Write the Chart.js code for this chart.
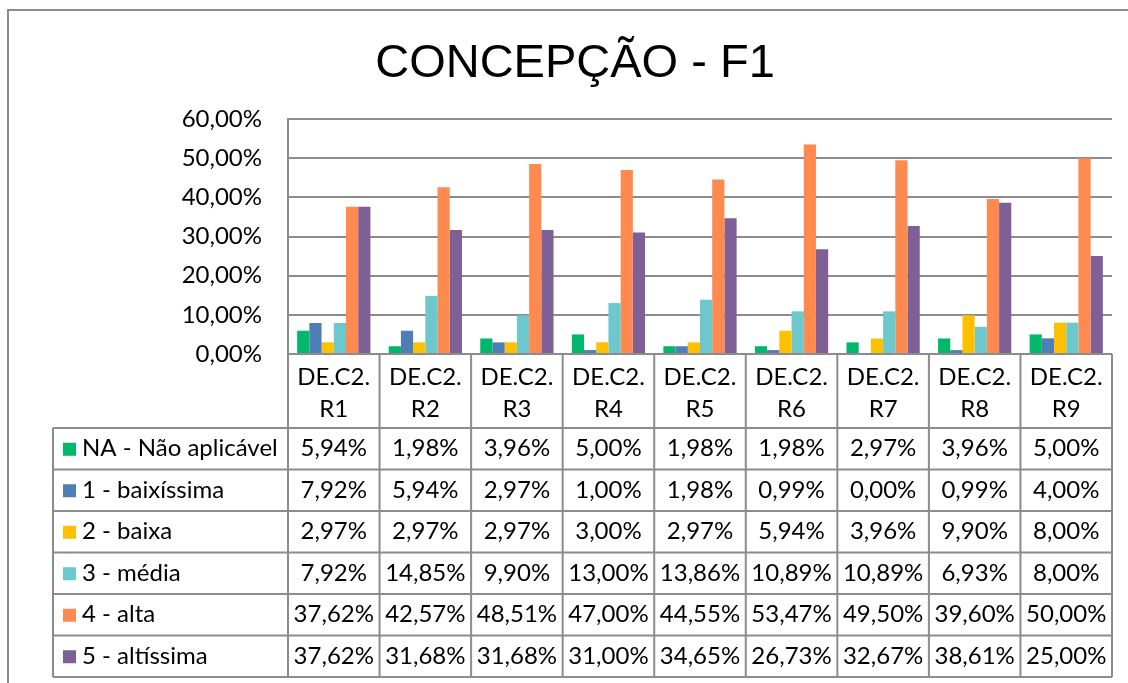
<!DOCTYPE html>
<html>
<head>
<meta charset="utf-8">
<script src="https://cdn.jsdelivr.net/npm/chart.js@4/dist/chart.umd.min.js"></script>
<style>
  html, body { margin: 0; padding: 0; background: #fff; }
  #wrap { width: 1128px; height: 683px; }
</style>
</head>
<body>
<div id="wrap"><canvas id="chart" width="1128" height="683"></canvas></div>
<script>
// categories (two header lines each)
const catTop = ['DE.C2.', 'DE.C2.', 'DE.C2.', 'DE.C2.', 'DE.C2.', 'DE.C2.', 'DE.C2.', 'DE.C2.', 'DE.C2.'];
const catBottom = ['R1', 'R2', 'R3', 'R4', 'R5', 'R6', 'R7', 'R8', 'R9'];

const seriesNames = ['NA - Não aplicável', '1 - baixíssima', '2 - baixa', '3 - média', '4 - alta', '5 - altíssima'];
const seriesColors = ['#00B86B', '#4E7DB8', '#FFC000', '#6CC8CC', '#FF8A50', '#7E5F96'];

const naoAplicavel = [5.94, 1.98, 3.96, 5.00, 1.98, 1.98, 2.97, 3.96, 5.00];
const baixissima   = [7.92, 5.94, 2.97, 1.00, 1.98, 0.99, 0.00, 0.99, 4.00];
const baixa        = [2.97, 2.97, 2.97, 3.00, 2.97, 5.94, 3.96, 9.90, 8.00];
const media        = [7.92, 14.85, 9.90, 13.00, 13.86, 10.89, 10.89, 6.93, 8.00];
const alta         = [37.62, 42.57, 48.51, 47.00, 44.55, 53.47, 49.50, 39.60, 50.00];
const altissima    = [37.62, 31.68, 31.68, 31.00, 34.65, 26.73, 32.67, 38.61, 25.00];

const yTicks = [0, 10, 20, 30, 40, 50, 60];

const seriesValues = [naoAplicavel, baixissima, baixa, media, alta, altissima];

const pct = v => v.toFixed(2).replace('.', ',') + '%';

const LINE = '#8c8c8c';
const FONT = '"Lato", "Open Sans", sans-serif';
const FONT_SIZE = 24;
const headerH = 74;   // height of the category header row under the axis
const rowH = 41.5;    // height of each data row
const legendLeft = 53;

// draws the title, the data table and the frame
const tablePlugin = {
  id: 'dataTable',
  afterDraw(chart) {
    const ctx = chart.ctx;
    const area = chart.chartArea;
    const x = chart.scales.x;
    const n = catBottom.length;
    const colW = (area.right - area.left) / n;
    const edge = i => area.left + i * colW;
    const tableTop = area.bottom + headerH;
    const tableBottom = tableTop + rowH * seriesNames.length;

    ctx.save();

    // title
    ctx.fillStyle = '#000';
    ctx.font = '47px "Liberation Sans", Arial, sans-serif';
    ctx.textAlign = 'center';
    ctx.textBaseline = 'alphabetic';
    ctx.fillText('CONCEPÇÃO - F1', 575, 77);

    // frame
    ctx.strokeStyle = LINE;
    ctx.lineWidth = 2;
    ctx.beginPath();
    ctx.moveTo(8, 683);
    ctx.lineTo(8, 10);
    ctx.lineTo(1128, 10);
    ctx.stroke();

    // table grid
    ctx.beginPath();
    ctx.moveTo(area.left, area.top);
    ctx.lineTo(area.left, tableBottom);
    for (let i = 1; i <= n; i++) {
      ctx.moveTo(edge(i), area.bottom);
      ctx.lineTo(edge(i), tableBottom);
    }
    ctx.moveTo(area.left, area.bottom);
    ctx.lineTo(area.right, area.bottom);
    for (let r = 0; r <= seriesNames.length; r++) {
      const y = tableTop + r * rowH;
      ctx.moveTo(legendLeft, y);
      ctx.lineTo(area.right, y);
    }
    ctx.moveTo(legendLeft, tableTop);
    ctx.lineTo(legendLeft, tableBottom);
    ctx.stroke();

    // category headers
    ctx.fillStyle = '#000';
    ctx.font = FONT_SIZE + 'px ' + FONT;
    ctx.textAlign = 'center';
    ctx.textBaseline = 'middle';
    for (let i = 0; i < n; i++) {
      const cx = x.getPixelForValue(i);
      ctx.fillText(catTop[i], cx, area.bottom + 23);
      ctx.fillText(catBottom[i], cx, area.bottom + 55);
    }

    // rows
    seriesNames.forEach((name, r) => {
      const cy = tableTop + r * rowH + rowH / 2;
      ctx.fillStyle = seriesColors[r];
      ctx.fillRect(legendLeft + 10, cy - 6, 13, 13);
      ctx.fillStyle = '#000';
      ctx.textAlign = 'left';
      ctx.fillText(name, legendLeft + 29, cy);
      ctx.textAlign = 'center';
      seriesValues[r].forEach((v, i) => {
        ctx.fillText(pct(v), x.getPixelForValue(i), cy);
      });
    });

    ctx.restore();
  }
};

new Chart(document.getElementById('chart'), {
  type: 'bar',
  data: {
    labels: catBottom,
    datasets: seriesNames.map((name, i) => ({
      label: name,
      data: seriesValues[i],
      backgroundColor: seriesColors[i],
      borderWidth: 0,
      categoryPercentage: 0.8,
      barPercentage: 1.0
    }))
  },
  options: {
    responsive: false,
    devicePixelRatio: 1,
    animation: false,
    layout: { padding: { left: 0, right: 16, top: 119, bottom: 329 } },
    plugins: {
      legend: { display: false },
      title: { display: false },
      tooltip: { enabled: false }
    },
    scales: {
      x: { display: false },
      y: {
        min: yTicks[0],
        max: yTicks[yTicks.length - 1],
        afterFit(scale) { scale.width = 288; },
        afterBuildTicks(scale) { scale.ticks = yTicks.map(v => ({ value: v })); },
        grid: { color: LINE, lineWidth: 2, drawTicks: false },
        border: { display: true, color: LINE, width: 2 },
        ticks: {
          padding: 26,
          color: '#000',
          font: { family: FONT, size: FONT_SIZE },
          callback: v => pct(v)
        }
      }
    }
  },
  plugins: [tablePlugin]
});
</script>
</body>
</html>
